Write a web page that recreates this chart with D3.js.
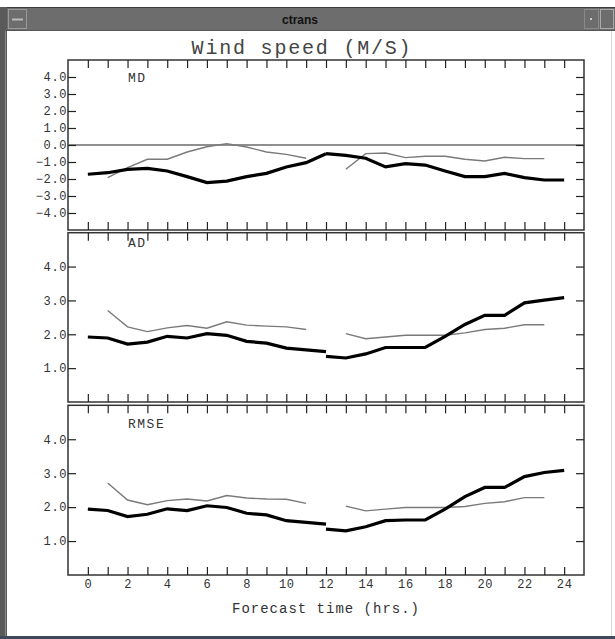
<!DOCTYPE html>
<html>
<head>
<meta charset="utf-8">
<script src="https://cdn.jsdelivr.net/npm/d3@7"></script>
<style>
html,body{margin:0;padding:0;background:#fff;}
svg{display:block;}
</style>
</head>
<body>
<svg id="chart" width="615" height="639"></svg>
<script>
// ---- data ----
const windowTitle = "ctrans";
const chartTitle = "Wind speed (M/S)";
const xTitle = "Forecast time (hrs.)";
const panelNames = ["MD", "AD", "RMSE"];
const xTickValues = [0,1,2,3,4,5,6,7,8,9,10,11,12,13,14,15,16,17,18,19,20,21,22,23,24];
const xLabelValues = [0,2,4,6,8,10,12,14,16,18,20,22,24];
const mdTicks = [-4,-3,-2,-1,0,1,2,3,4];
const posTicks = [1,2,3,4];

const hoursThickA = [0,1,2,3,4,5,6,7,8,9,10,11,12];
const hoursThickB = [12,13,14,15,16,17,18,19,20,21,22,23,24];
const hoursThinA = [1,2,3,4,5,6,7,8,9,10,11];
const hoursThinB = [13,14,15,16,17,18,19,20,21,22,23];

const mdThickA = [-1.72,-1.63,-1.43,-1.37,-1.53,-1.86,-2.21,-2.12,-1.86,-1.67,-1.29,-1.04,-0.51];
const mdThickB = [-0.51,-0.61,-0.78,-1.29,-1.10,-1.18,-1.53,-1.86,-1.86,-1.67,-1.92,-2.06,-2.06];
const mdThinA = [-1.92,-1.33,-0.84,-0.84,-0.41,-0.10,0.08,-0.12,-0.41,-0.55,-0.78];
const mdThinB = [-1.43,-0.51,-0.47,-0.74,-0.66,-0.66,-0.84,-0.94,-0.72,-0.80,-0.80];

const adThickA = [1.92,1.89,1.71,1.77,1.94,1.89,2.02,1.97,1.79,1.74,1.59,1.54,1.49];
const adThickB = [1.35,1.30,1.42,1.61,1.61,1.61,1.94,2.29,2.56,2.56,2.93,3.01,3.08];
const adThinA = [2.70,2.22,2.08,2.19,2.26,2.18,2.37,2.27,2.24,2.22,2.14];
const adThinB = [2.02,1.87,1.92,1.97,1.97,1.97,2.04,2.14,2.18,2.28,2.28];

const rmseThickA = [1.94,1.90,1.72,1.79,1.95,1.90,2.04,1.99,1.82,1.77,1.60,1.55,1.50];
const rmseThickB = [1.35,1.30,1.42,1.60,1.62,1.62,1.94,2.31,2.58,2.58,2.90,3.02,3.08];
const rmseThinA = [2.71,2.21,2.07,2.19,2.24,2.18,2.34,2.27,2.24,2.23,2.11];
const rmseThinB = [2.03,1.89,1.94,1.99,1.99,1.99,2.02,2.11,2.16,2.28,2.28];

// ---- layout ----
const svg = d3.select("#chart");
const mono = "'Liberation Mono','DejaVu Sans Mono',monospace";

// window chrome
svg.append("rect").attr("x",0).attr("y",0).attr("width",615).attr("height",639).attr("fill","#fff");
svg.append("rect").attr("x",0).attr("y",7).attr("width",615).attr("height",24).attr("fill","#6d6d6d");
svg.append("line").attr("x1",0).attr("x2",615).attr("y1",7.5).attr("y2",7.5).attr("stroke","#3c3c3c");
svg.append("line").attr("x1",0).attr("x2",615).attr("y1",30.5).attr("y2",30.5).attr("stroke","#555");
// left button
svg.append("rect").attr("x",8.5).attr("y",9.5).attr("width",18).attr("height",19).attr("fill","#6d6d6d").attr("stroke","#9a9a9a");
svg.append("line").attr("x1",12).attr("x2",23).attr("y1",19.5).attr("y2",19.5).attr("stroke","#bbb").attr("stroke-width",2);
// right buttons
svg.append("rect").attr("x",584.5).attr("y",9.5).attr("width",14).attr("height",19).attr("fill","#6d6d6d").attr("stroke","#8a8a8a");
svg.append("rect").attr("x",590).attr("y",18).attr("width",2).attr("height",2).attr("fill","#ccc");
svg.append("rect").attr("x",600.5).attr("y",9.5).attr("width",13).attr("height",19).attr("fill","#6d6d6d").attr("stroke","#aaa");
svg.append("text").attr("x",300).attr("y",24).attr("text-anchor","middle")
  .attr("font-family","'Liberation Sans',Arial,sans-serif").attr("font-weight","bold")
  .attr("font-size",12).attr("fill","#111").text(windowTitle);
// left border
svg.append("rect").attr("x",0).attr("y",7).attr("width",7).attr("height",629).attr("fill","#5a5a5a");
svg.append("line").attr("x1",5.5).attr("x2",5.5).attr("y1",31).attr("y2",636).attr("stroke","#8a8a8a");
svg.append("line").attr("x1",611.5).attr("x2",611.5).attr("y1",31).attr("y2",636).attr("stroke","#d8d8d8");
// bottom desktop strip
svg.append("rect").attr("x",0).attr("y",636).attr("width",615).attr("height",3).attr("fill","#3e4a58");

// title
svg.append("text").attr("x",302).attr("y",54).attr("text-anchor","middle")
  .attr("font-family",mono).attr("font-size",20).attr("letter-spacing",1.8)
  .attr("fill","#444").text(chartTitle);

const x = d3.scaleLinear().domain([-1,25]).range([68,584]);

const panels = [
  {name:panelNames[0], top:60, bottom:230, domain:[-5,5], ticks:mdTicks,
   thickA:mdThickA, thickB:mdThickB, thinA:mdThinA, thinB:mdThinB, zero:true, labelY:82},
  {name:panelNames[1], top:232.7, bottom:402, domain:[0,5], ticks:posTicks,
   thickA:adThickA, thickB:adThickB, thinA:adThinA, thinB:adThinB, zero:false, labelY:247},
  {name:panelNames[2], top:405.3, bottom:575, domain:[0,5], ticks:posTicks,
   thickA:rmseThickA, thickB:rmseThickB, thinA:rmseThinA, thinB:rmseThinB, zero:false, labelY:428}
];

const fmt = d3.format(".1f");

panels.forEach((p, i) => {
  const y = d3.scaleLinear().domain(p.domain).range([p.bottom, p.top]);
  const g = svg.append("g");

  // frame
  g.append("rect").attr("x",x.range()[0]).attr("y",p.top)
    .attr("width",x.range()[1]-x.range()[0]).attr("height",p.bottom-p.top)
    .attr("fill","none").attr("stroke","#333").attr("stroke-width",1.5);

  // zero line
  if (p.zero) {
    g.append("line").attr("x1",x.range()[0]).attr("x2",x.range()[1])
      .attr("y1",y(0)).attr("y2",y(0)).attr("stroke","#6a6a6a").attr("stroke-width",1.5);
  }

  const styleAxis = sel => {
    sel.select(".domain").remove();
    sel.selectAll(".tick line").attr("stroke","#222").attr("stroke-width",1.2);
    sel.selectAll(".tick text").attr("font-family",mono).attr("font-size",12)
      .attr("letter-spacing",0.6).attr("fill","#333");
  };

  // left axis
  g.append("g").attr("transform",`translate(${x.range()[0]},0)`)
    .call(d3.axisLeft(y).tickValues(p.ticks).tickSize(-8).tickPadding(1).tickFormat(fmt))
    .call(styleAxis);
  // right axis
  g.append("g").attr("transform",`translate(${x.range()[1]},0)`)
    .call(d3.axisRight(y).tickValues(p.ticks).tickSize(-8).tickFormat(""))
    .call(styleAxis);
  // top axis
  g.append("g").attr("transform",`translate(0,${p.top})`)
    .call(d3.axisTop(x).tickValues(xTickValues).tickSize(-8).tickFormat(""))
    .call(styleAxis);
  // bottom axis
  const last = i === panels.length-1;
  g.append("g").attr("transform",`translate(0,${p.bottom})`)
    .call(d3.axisBottom(x).tickValues(xTickValues).tickSize(-8).tickPadding(4)
      .tickFormat(d => (last && xLabelValues.includes(d)) ? d : ""))
    .call(styleAxis);

  const line = d3.line().x(d => x(d[0])).y(d => y(d[1]));
  const thin = [[hoursThinA,p.thinA],[hoursThinB,p.thinB]];
  const thick = [[hoursThickA,p.thickA],[hoursThickB,p.thickB]];
  thin.forEach(([h,v]) => {
    g.append("path").datum(h.map((hh,k)=>[hh,v[k]])).attr("d",line)
      .attr("fill","none").attr("stroke","#7a7a7a").attr("stroke-width",1.4);
  });
  thick.forEach(([h,v]) => {
    g.append("path").datum(h.map((hh,k)=>[hh,v[k]])).attr("d",line)
      .attr("fill","none").attr("stroke","#000").attr("stroke-width",3.2);
  });

  g.append("text").attr("x",128).attr("y",p.labelY)
    .attr("font-family",mono).attr("font-size",13).attr("letter-spacing",1.5)
    .attr("fill","#333").text(p.name);
});

svg.append("text").attr("x",x(12)).attr("y",613).attr("text-anchor","middle")
  .attr("font-family",mono).attr("font-size",14).attr("letter-spacing",1)
  .attr("fill","#333").text(xTitle);
</script>
</body>
</html>
